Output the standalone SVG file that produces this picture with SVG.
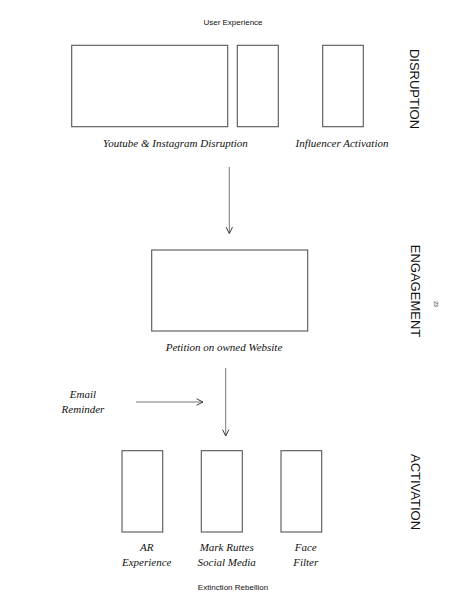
<svg xmlns="http://www.w3.org/2000/svg" width="468" height="609" viewBox="0 0 468 609">
<style>
.box{fill:#fff;stroke:#555;stroke-width:1.1}
.lbl{font-family:"Liberation Serif",serif;font-style:italic;font-size:11px;fill:#111;text-anchor:middle}
.sans{font-family:"Liberation Sans",Arial,sans-serif;fill:#111;text-anchor:middle}
.side{font-family:"Liberation Sans",Arial,sans-serif;font-size:13px;fill:#111;text-anchor:middle}
.conn{stroke:#777;stroke-width:1;fill:none}
</style>
<defs>
<marker id="arr" viewBox="0 0 10 10" refX="9" refY="5" markerWidth="8" markerHeight="8" orient="auto" markerUnits="userSpaceOnUse">
<path d="M1,1 L9,5 L1,9" fill="none" stroke="#333" stroke-width="1.2"/>
</marker>
</defs>
<rect width="468" height="609" fill="#fff"/>
<text class="sans" x="233" y="25" font-size="8">User Experience</text>
<text class="sans" x="233" y="590" font-size="8">Extinction Rebellion</text>
<g id="disruption-label"><text class="side" transform="translate(410,89) rotate(90)">DISRUPTION</text></g>
<g id="engagement-label"><text class="side" transform="translate(411,291) rotate(90)">ENGAGEMENT</text></g>
<g id="activation-label"><text class="side" transform="translate(411,492) rotate(90)">ACTIVATION</text></g>
<text class="sans" font-size="5" transform="translate(434,304) rotate(90)">23</text>
<g id="youtube">
<rect class="box" x="71.7" y="45.3" width="156" height="81.4"/>
<rect class="box" x="237.3" y="45.3" width="41" height="81.4"/>
<text class="lbl" x="175.5" y="147">Youtube &amp; Instagram Disruption</text>
</g>
<g id="influencer">
<rect class="box" x="322.7" y="45.3" width="40.6" height="81.4"/>
<text class="lbl" x="342" y="147">Influencer Activation</text>
</g>
<g id="petition">
<rect class="box" x="151.7" y="250" width="156" height="81"/>
<text class="lbl" x="224" y="351">Petition on owned Website</text>
</g>
<g id="email">
<text class="lbl" x="83" y="398">Email</text>
<text class="lbl" x="83" y="413">Reminder</text>
</g>
<g id="ar">
<rect class="box" x="122" y="450.7" width="40.7" height="81.3"/>
<text class="lbl" x="146.7" y="551">AR</text>
<text class="lbl" x="146.7" y="566">Experience</text>
</g>
<g id="mark">
<rect class="box" x="201.3" y="450.7" width="41" height="81.3"/>
<text class="lbl" x="226.7" y="551">Mark Ruttes</text>
<text class="lbl" x="226.7" y="566">Social Media</text>
</g>
<g id="face">
<rect class="box" x="281" y="450.7" width="40.7" height="81.3"/>
<text class="lbl" x="305.7" y="551">Face</text>
<text class="lbl" x="305.7" y="566">Filter</text>
</g>
<g id="connectors">
<line class="conn" x1="229.3" y1="167" x2="229.3" y2="233.5" marker-end="url(#arr)"/>
<line class="conn" x1="225.7" y1="368" x2="225.7" y2="436" marker-end="url(#arr)"/>
<line class="conn" x1="136" y1="402" x2="203" y2="402" marker-end="url(#arr)"/>
</g>
</svg>
